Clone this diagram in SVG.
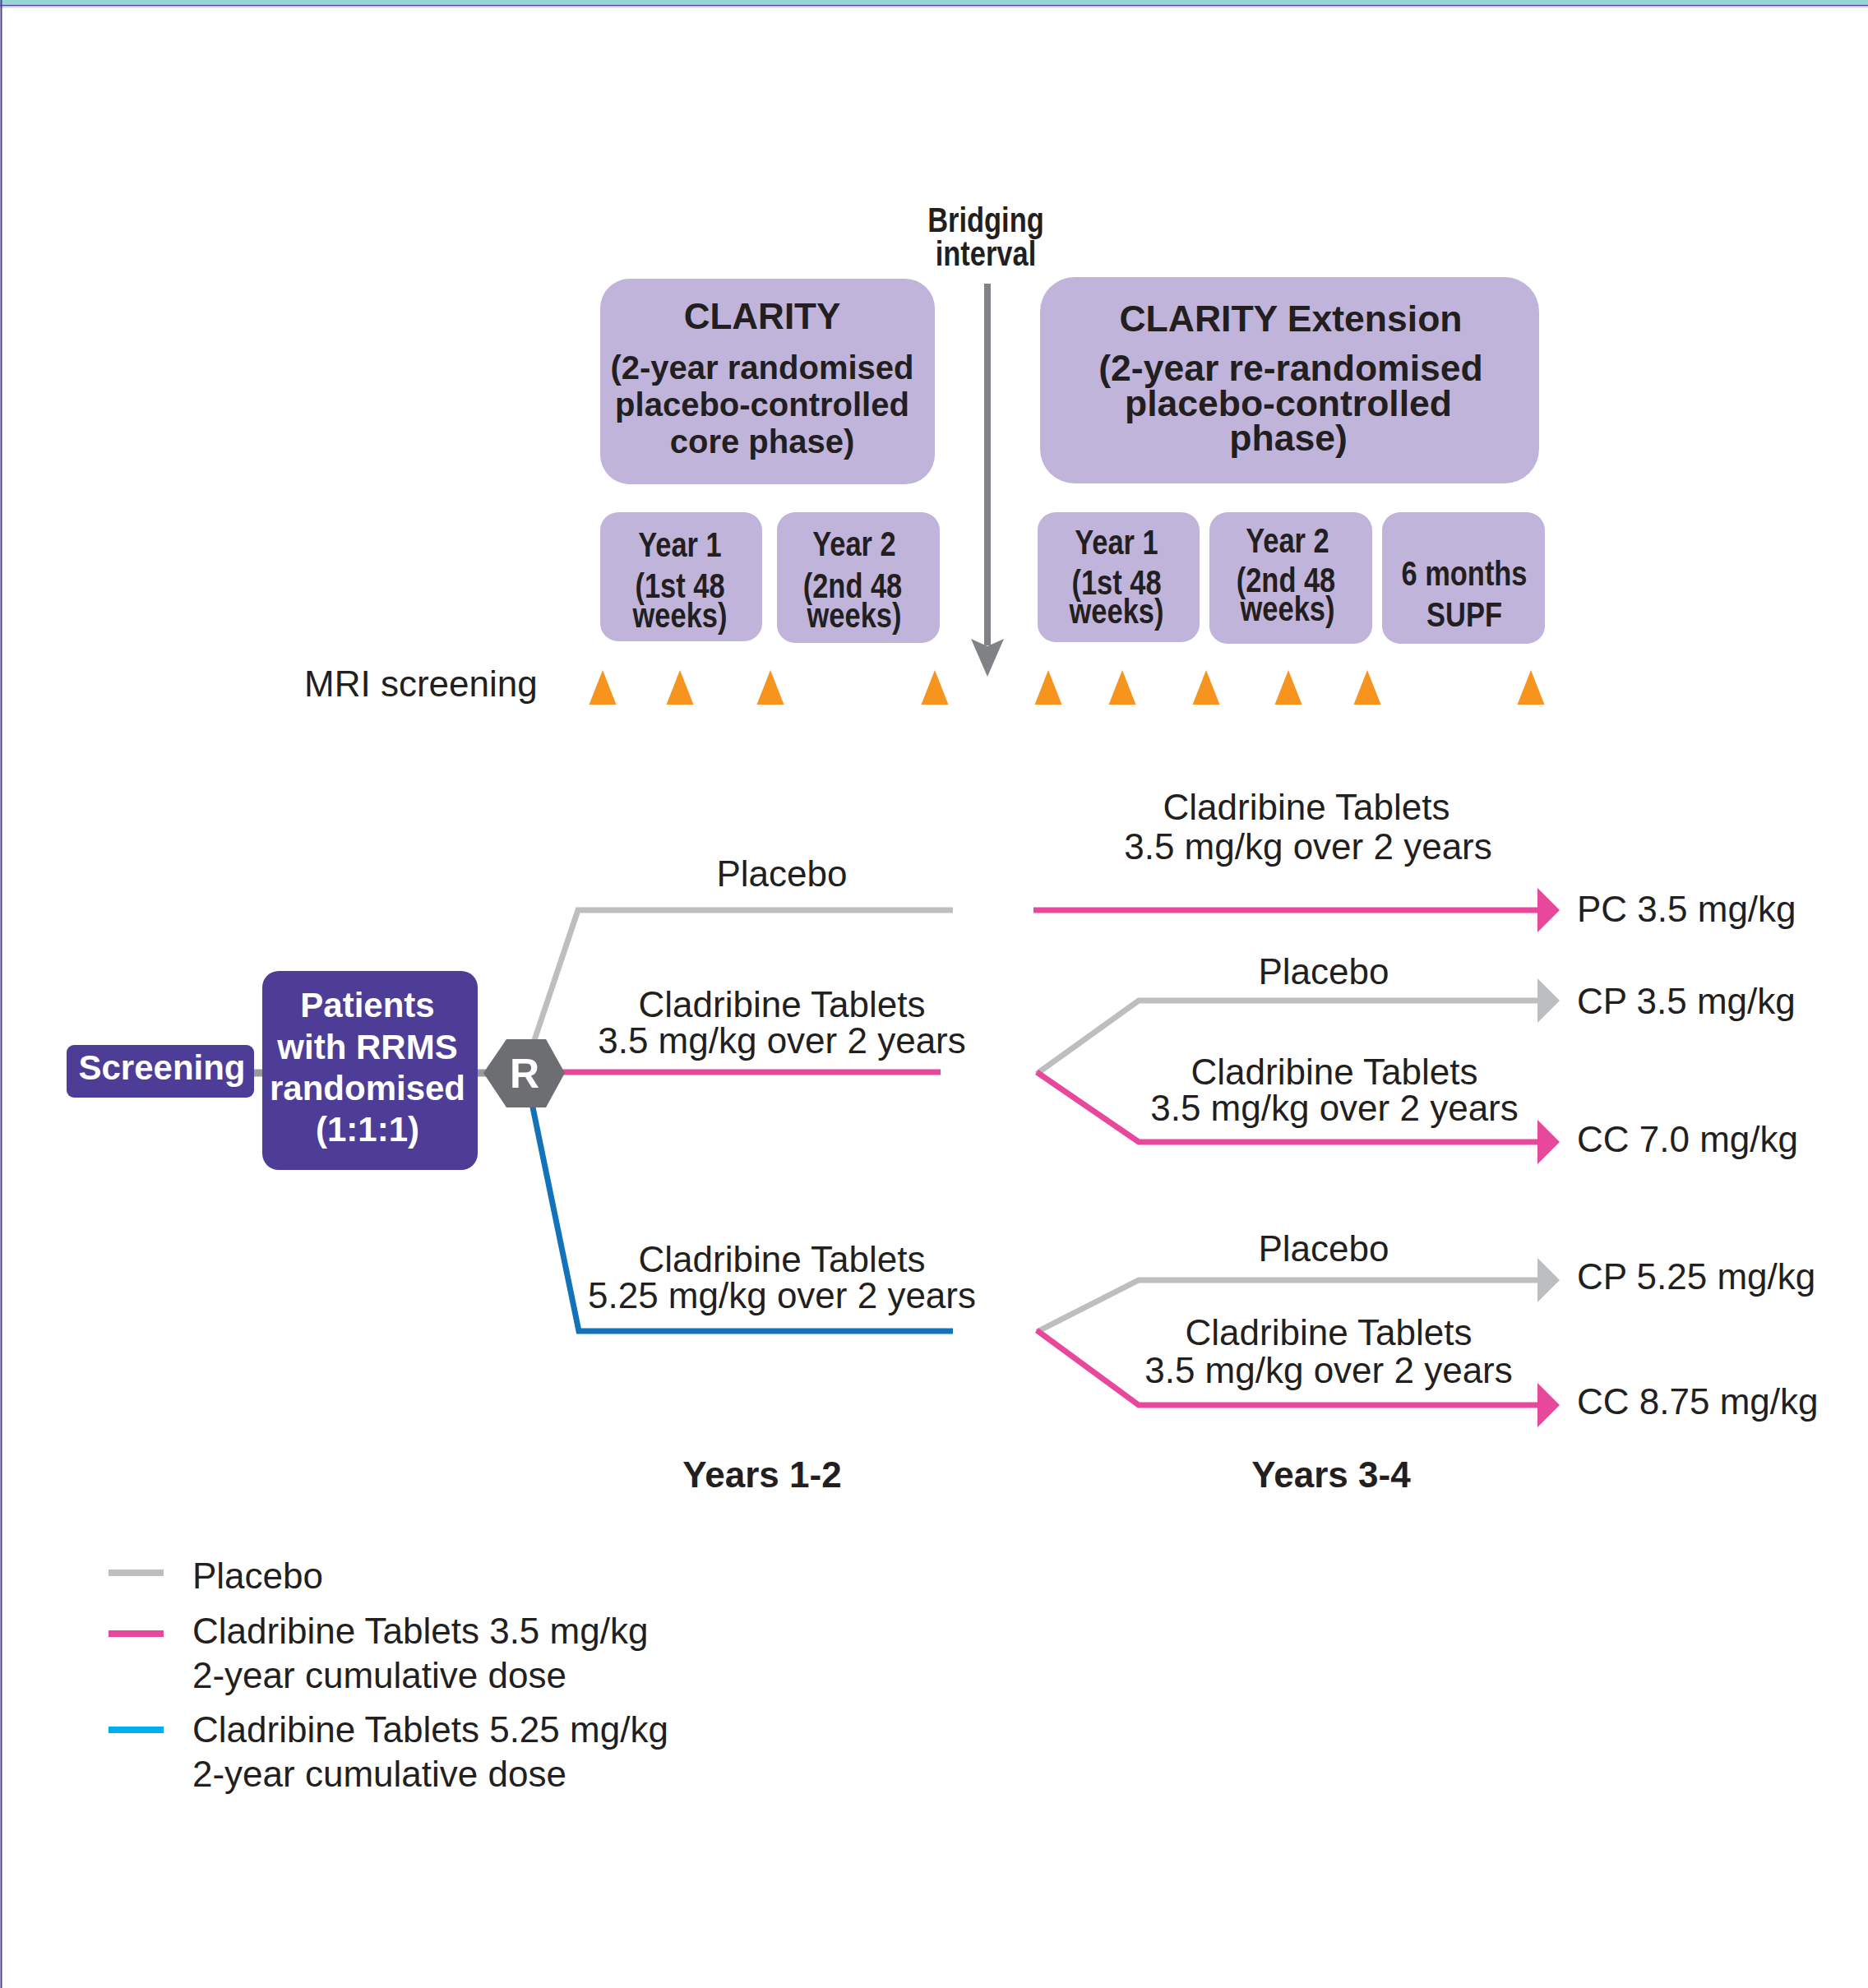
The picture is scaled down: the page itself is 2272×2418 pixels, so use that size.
<svg xmlns="http://www.w3.org/2000/svg" xmlns:xlink="http://www.w3.org/1999/xlink" width="2272" height="2418" viewBox="0 0 2272 2418">
<style>
.t{font-family:"Liberation Sans",Arial,sans-serif;fill:#231F20;font-size:44px;}
.b{font-weight:bold;}
.n{font-family:"Liberation Sans",Arial,sans-serif;font-weight:bold;font-size:42px;fill:#231F20;text-anchor:middle;}
.w{fill:#FFFFFF;}
.lav{fill:#C1B4DA;}
.dp{fill:#4E3D96;}
.tri{fill:#F7941D;}
.gl{stroke:#BCBEC0;stroke-width:7;fill:none;stroke-linejoin:miter;}
.pl{stroke:#E8489B;stroke-width:7;fill:none;stroke-linejoin:miter;}
.bl{stroke:#1273BA;stroke-width:7;fill:none;stroke-linejoin:miter;}
.ga{fill:#BCBEC0;}
.pa{fill:#E8489B;}
</style>
<defs>
<path id="tri" d="M0,-42 L16.5,0 L-16.5,0 Z"/>
<path id="ah" d="M0,-27 L27,0 L0,27 Z"/>
</defs>
<rect width="2272" height="2418" fill="#FFFFFF"/>
<g id="frame">
<rect x="0" y="0" width="2272" height="6" fill="#97D7D3"/>
<rect x="0" y="6" width="2272" height="1.5" fill="#4E3D96"/>
<rect x="0" y="7.5" width="2272" height="2" fill="#D9D1EA"/>
<rect x="0.5" y="0" width="2" height="2418" fill="#4E3D96"/>
</g>

<g id="clarity">
<rect class="lav" x="730" y="339" width="407" height="250" rx="36"/>
<text class="t b" x="927" y="400" text-anchor="middle">CLARITY</text>
<text class="t b" x="927" y="461" text-anchor="middle" style="font-size:40px">(2-year randomised</text>
<text class="t b" x="927" y="506" text-anchor="middle" style="font-size:40px">placebo-controlled</text>
<text class="t b" x="927" y="551" text-anchor="middle" style="font-size:40px">core phase)</text>
</g>
<g id="clarity-ext">
<rect class="lav" x="1265" y="337" width="607" height="251" rx="42"/>
<text class="t b" x="1570" y="403" text-anchor="middle" style="font-size:44.5px">CLARITY Extension</text>
<text class="t b" x="1570" y="463" text-anchor="middle" style="font-size:44.5px">(2-year re-randomised</text>
<text class="t b" x="1567" y="506" text-anchor="middle" style="font-size:44.5px">placebo-controlled</text>
<text class="t b" x="1567" y="548" text-anchor="middle" style="font-size:44.5px">phase)</text>
</g>

<g id="bridging">
<text class="n" transform="translate(1199,282) scale(0.82,1)">Bridging</text>
<text class="n" transform="translate(1199,323) scale(0.82,1)">interval</text>
<line x1="1201" y1="345" x2="1201" y2="785" stroke="#808285" stroke-width="8"/>
<path d="M1181,777 L1201,786 L1221,777 L1201,823 Z" fill="#808285"/>
</g>

<g id="c-year1">
<rect class="lav" x="730" y="623" width="197" height="157" rx="22"/>
<text class="n" transform="translate(827,677) scale(0.82,1)">Year 1</text>
<text class="n" transform="translate(827,727) scale(0.82,1)">(1st 48</text>
<text class="n" transform="translate(827,763) scale(0.82,1)">weeks)</text>
</g>
<g id="c-year2">
<rect class="lav" x="945" y="623" width="198" height="159" rx="22"/>
<text class="n" transform="translate(1039,676) scale(0.82,1)">Year 2</text>
<text class="n" transform="translate(1037,727) scale(0.82,1)">(2nd 48</text>
<text class="n" transform="translate(1039,763) scale(0.82,1)">weeks)</text>
</g>
<g id="e-year1">
<rect class="lav" x="1262" y="623" width="197" height="158" rx="22"/>
<text class="n" transform="translate(1358,674) scale(0.82,1)">Year 1</text>
<text class="n" transform="translate(1358,723) scale(0.82,1)">(1st 48</text>
<text class="n" transform="translate(1358,758) scale(0.82,1)">weeks)</text>
</g>
<g id="e-year2">
<rect class="lav" x="1471" y="623" width="198" height="160" rx="22"/>
<text class="n" transform="translate(1566,672) scale(0.82,1)">Year 2</text>
<text class="n" transform="translate(1564,720) scale(0.82,1)">(2nd 48</text>
<text class="n" transform="translate(1566,755) scale(0.82,1)">weeks)</text>
</g>
<g id="e-supf">
<rect class="lav" x="1681" y="623" width="198" height="160" rx="22"/>
<text class="n" transform="translate(1781,712) scale(0.82,1)">6 months</text>
<text class="n" transform="translate(1781,762) scale(0.82,1)">SUPF</text>
</g>

<g id="mri">
<text class="t" x="370" y="847">MRI screening</text>
<use xlink:href="#tri" href="#tri" class="tri" x="733" y="857"/>
<use xlink:href="#tri" href="#tri" class="tri" x="827" y="857"/>
<use xlink:href="#tri" href="#tri" class="tri" x="937" y="857"/>
<use xlink:href="#tri" href="#tri" class="tri" x="1137" y="857"/>
<use xlink:href="#tri" href="#tri" class="tri" x="1275" y="857"/>
<use xlink:href="#tri" href="#tri" class="tri" x="1365" y="857"/>
<use xlink:href="#tri" href="#tri" class="tri" x="1467" y="857"/>
<use xlink:href="#tri" href="#tri" class="tri" x="1567" y="857"/>
<use xlink:href="#tri" href="#tri" class="tri" x="1663" y="857"/>
<use xlink:href="#tri" href="#tri" class="tri" x="1862" y="857"/>
</g>

<g id="connectors">
<line x1="305" y1="1305" x2="325" y2="1305" stroke="#9A9B9D" stroke-width="9"/>
<line x1="577" y1="1305" x2="594" y2="1305" stroke="#9A9B9D" stroke-width="9"/>
<polyline class="gl" points="649,1268 703,1107 1159,1107"/>
<polyline class="pl" points="684,1304 1144,1304"/>
<polyline class="bl" points="647,1342 704,1619 1159,1619"/>
<line class="pl" x1="1257" y1="1107" x2="1871" y2="1107"/>
<use xlink:href="#ah" href="#ah" class="pa" x="1870" y="1107"/>
<polyline class="gl" points="1261,1306 1385,1217 1871,1217"/>
<use xlink:href="#ah" href="#ah" class="ga" x="1870" y="1217"/>
<polyline class="pl" points="1261,1304 1385,1389 1871,1389"/>
<use xlink:href="#ah" href="#ah" class="pa" x="1870" y="1389"/>
<polyline class="gl" points="1261,1620 1385,1557 1871,1557"/>
<use xlink:href="#ah" href="#ah" class="ga" x="1870" y="1557"/>
<polyline class="pl" points="1261,1618 1385,1709 1871,1709"/>
<use xlink:href="#ah" href="#ah" class="pa" x="1870" y="1709"/>
</g>

<g id="screening">
<rect class="dp" x="81" y="1271" width="228" height="64" rx="9"/>
<text class="t b w" x="197" y="1313" text-anchor="middle" style="font-size:42px">Screening</text>
</g>
<g id="patients">
<rect class="dp" x="319" y="1181" width="262" height="242" rx="20"/>
<text class="t b w" x="447" y="1237" text-anchor="middle" style="font-size:42px">Patients</text>
<text class="t b w" x="447" y="1288" text-anchor="middle" style="font-size:42px">with RRMS</text>
<text class="t b w" x="447" y="1338" text-anchor="middle" style="font-size:42px">randomised</text>
<text class="t b w" x="447" y="1388" text-anchor="middle" style="font-size:42px">(1:1:1)</text>
</g>
<g id="randomise">
<polygon points="616,1264 664,1264 687,1305 664,1347 616,1347 588,1305" fill="#6D6E71"/>
<text class="t b w" x="638" y="1323" text-anchor="middle" style="font-size:50px">R</text>
</g>

<g id="labels">
<text class="t" x="951" y="1078" text-anchor="middle">Placebo</text>
<text class="t" x="951" y="1237" text-anchor="middle">Cladribine Tablets</text>
<text class="t" x="951" y="1281" text-anchor="middle">3.5 mg/kg over 2 years</text>
<text class="t" x="951" y="1547" text-anchor="middle">Cladribine Tablets</text>
<text class="t" x="951" y="1591" text-anchor="middle">5.25 mg/kg over 2 years</text>
<text class="t" x="1589" y="997" text-anchor="middle">Cladribine Tablets</text>
<text class="t" x="1591" y="1045" text-anchor="middle">3.5 mg/kg over 2 years</text>
<text class="t" x="1610" y="1197" text-anchor="middle">Placebo</text>
<text class="t" x="1623" y="1319" text-anchor="middle">Cladribine Tablets</text>
<text class="t" x="1623" y="1363" text-anchor="middle">3.5 mg/kg over 2 years</text>
<text class="t" x="1610" y="1534" text-anchor="middle">Placebo</text>
<text class="t" x="1616" y="1636" text-anchor="middle">Cladribine Tablets</text>
<text class="t" x="1616" y="1682" text-anchor="middle">3.5 mg/kg over 2 years</text>
<text class="t" x="1918" y="1121">PC 3.5 mg/kg</text>
<text class="t" x="1918" y="1233">CP 3.5 mg/kg</text>
<text class="t" x="1918" y="1401">CC 7.0 mg/kg</text>
<text class="t" x="1918" y="1568">CP 5.25 mg/kg</text>
<text class="t" x="1918" y="1720">CC 8.75 mg/kg</text>
<text class="t b" x="927" y="1809" text-anchor="middle">Years 1-2</text>
<text class="t b" x="1619" y="1809" text-anchor="middle">Years 3-4</text>
</g>

<g id="legend">
<rect x="132" y="1909" width="67" height="8" fill="#BCBEC0"/>
<text class="t" x="234" y="1932">Placebo</text>
<rect x="132" y="1983" width="67" height="8" fill="#E8489B"/>
<text class="t" x="234" y="1999">Cladribine Tablets 3.5 mg/kg</text>
<text class="t" x="234" y="2053">2-year cumulative dose</text>
<rect x="132" y="2100" width="67" height="8" fill="#00AEEF"/>
<text class="t" x="234" y="2119">Cladribine Tablets 5.25 mg/kg</text>
<text class="t" x="234" y="2173">2-year cumulative dose</text>
</g>
</svg>
